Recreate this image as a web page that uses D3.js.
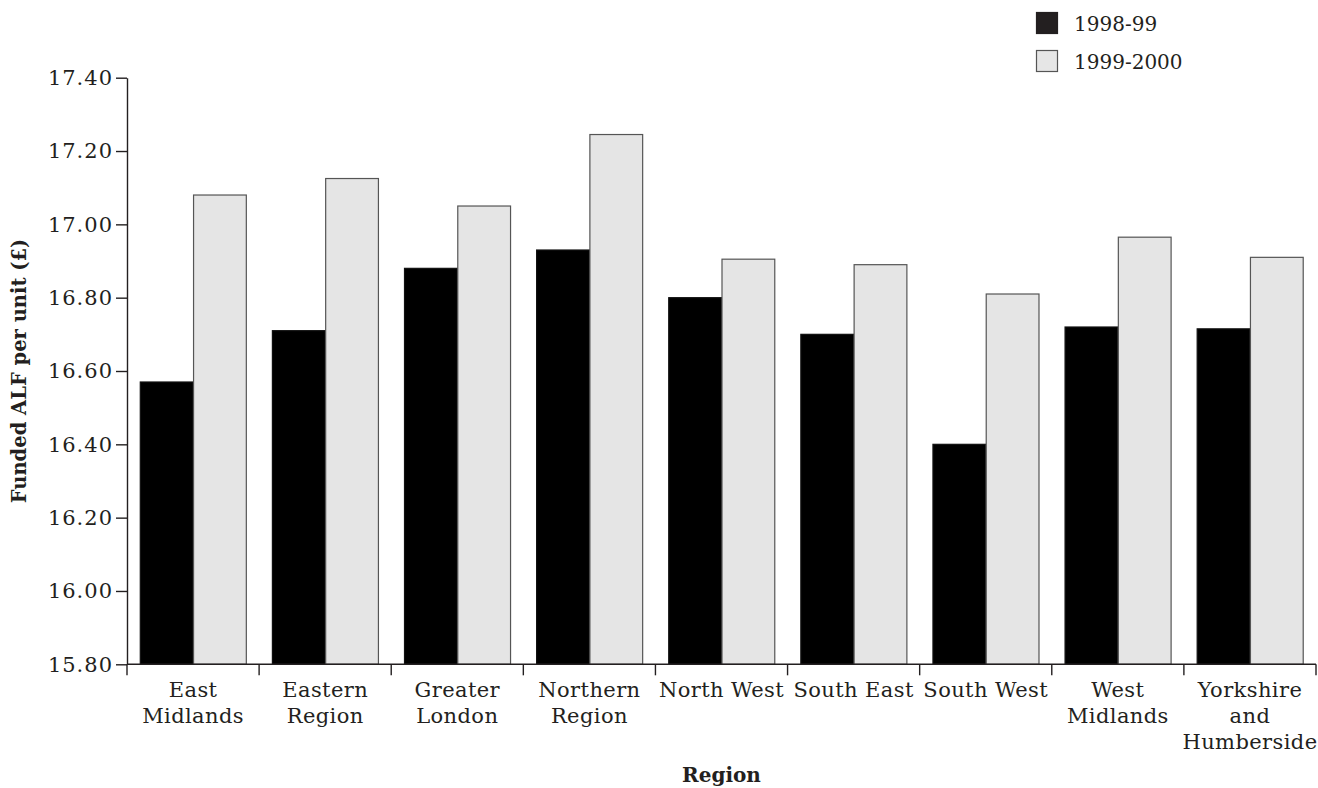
<!DOCTYPE html>
<html>
<head>
<meta charset="utf-8">
<script src="https://cdn.jsdelivr.net/npm/d3@7"></script>
<style>
  html, body { margin: 0; padding: 0; background: #fff; }
  svg { display: block; }
  text { font-family: "DejaVu Serif", "Liberation Serif", serif; fill: #231f20; }
</style>
</head>
<body>
<svg id="chart" width="1318" height="788"></svg>
<script>
// ---- data ----
const categories = [
  ["East", "Midlands"],
  ["Eastern", "Region"],
  ["Greater", "London"],
  ["Northern", "Region"],
  ["North West"],
  ["South East"],
  ["South West"],
  ["West", "Midlands"],
  ["Yorkshire", "and", "Humberside"]
];
const seriesNames = ["1998-99", "1999-2000"];
const values1998 = [16.57, 16.71, 16.88, 16.93, 16.80, 16.70, 16.40, 16.72, 16.715];
const values1999 = [17.08, 17.125, 17.05, 17.245, 16.905, 16.89, 16.81, 16.965, 16.91];
const yTicks = [15.80, 16.00, 16.20, 16.40, 16.60, 16.80, 17.00, 17.20, 17.40];
const yTitle = "Funded ALF per unit (\u00a3)";
const xTitle = "Region";

// ---- layout ----
const svg = d3.select("#chart");
const mLeft = 127, mRight = 1316, mTop = 77.7, mBottom = 664.3;
const catKeys = categories.map(c => c.join(" "));
const series = [values1998, values1999];
const fills = ["#000000", "#e5e5e5"];
const strokes = ["#111111", "#555555"];

const x0 = d3.scaleBand().domain(catKeys).range([mLeft, mRight]).padding(0);
const x1 = d3.scaleBand().domain(seriesNames).range([0, x0.bandwidth()]).paddingInner(0).paddingOuter(0.24);
const y = d3.scaleLinear().domain([15.8, 17.4]).range([mBottom, mTop]);

// bars
const groups = svg.append("g").selectAll("g")
  .data(catKeys)
  .join("g")
  .attr("transform", d => `translate(${x0(d)},0)`);

groups.selectAll("rect")
  .data((d, i) => seriesNames.map((s, j) => ({ s, j, v: series[j][i] })))
  .join("rect")
  .attr("x", d => x1(d.s) + 0.5)
  .attr("y", d => y(d.v))
  .attr("width", x1.bandwidth() - 0.5)
  .attr("height", d => mBottom - y(d.v))
  .attr("fill", d => fills[d.j])
  .attr("stroke", d => strokes[d.j])
  .attr("stroke-width", 1.2);

// y axis
const yAxis = svg.append("g")
  .attr("transform", `translate(${mLeft},0)`)
  .call(d3.axisLeft(y).tickValues(yTicks).tickFormat(d3.format(".2f")).tickSize(11).tickSizeOuter(0).tickPadding(3));
yAxis.selectAll("path, line").attr("stroke", "#231f20").attr("stroke-width", 1.4);
yAxis.selectAll("text").style("font-family", '"DejaVu Serif", serif').style("font-size", "21px").attr("fill", "#231f20").attr("letter-spacing", "1px");

// x axis line and boundary ticks
const xg = svg.append("g");
xg.append("line").attr("x1", mLeft).attr("x2", mRight).attr("y1", mBottom).attr("y2", mBottom)
  .attr("stroke", "#231f20").attr("stroke-width", 1.4);
const boundaries = catKeys.map(k => x0(k)).concat([x0(catKeys[catKeys.length - 1]) + x0.bandwidth()]);
xg.selectAll("line.tick").data(boundaries).join("line")
  .attr("class", "tick")
  .attr("x1", d => d).attr("x2", d => d)
  .attr("y1", mBottom).attr("y2", mBottom + 11)
  .attr("stroke", "#231f20").attr("stroke-width", 1.4);

// x labels
const lbl = xg.selectAll("text.cat").data(categories).join("text")
  .attr("class", "cat")
  .attr("text-anchor", "middle")
  .style("font-size", "21px")
  .attr("letter-spacing", "0.4px")
  .attr("transform", (d, i) => `translate(${x0(catKeys[i]) + x0.bandwidth() / 2},${mBottom + 33})`);
lbl.selectAll("tspan").data(d => d).join("tspan")
  .attr("x", 0)
  .attr("dy", (d, i) => i === 0 ? 0 : 26)
  .text(d => d);

// axis titles
svg.append("text")
  .attr("text-anchor", "middle")
  .attr("transform", `translate(26,${(mTop + mBottom) / 2}) rotate(-90)`)
  .style("font-size", "19.5px").style("font-weight", "bold")
  .text(yTitle);

svg.append("text")
  .attr("text-anchor", "middle")
  .attr("x", (mLeft + mRight) / 2).attr("y", 782)
  .style("font-size", "20px").style("font-weight", "bold")
  .text(xTitle);

// legend
const legend = svg.append("g").attr("transform", "translate(1036,12)");
const li = legend.selectAll("g").data(seriesNames).join("g")
  .attr("transform", (d, i) => `translate(0,${i * 38})`);
li.append("rect")
  .attr("x", 0.5).attr("y", 0.5).attr("width", 21).attr("height", 21)
  .attr("fill", (d, i) => i === 0 ? "#231f20" : "#e6e6e6")
  .attr("stroke", (d, i) => i === 0 ? "#231f20" : "#555")
  .attr("stroke-width", 1.2);
li.append("text")
  .attr("x", 38).attr("y", 19)
  .style("font-size", "20px")
  .text(d => d);
</script>
</body>
</html>
